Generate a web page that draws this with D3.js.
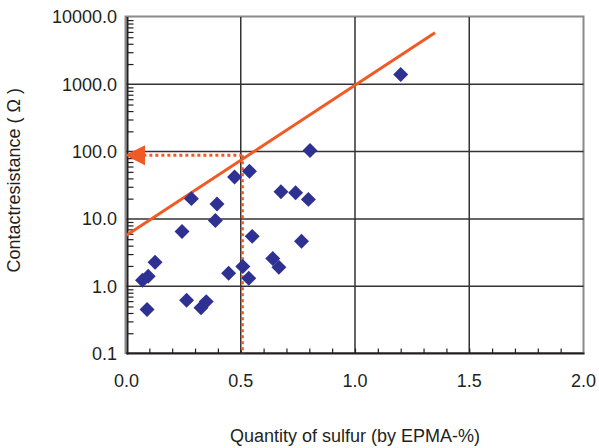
<!DOCTYPE html>
<html><head><meta charset="utf-8">
<script src="https://cdn.jsdelivr.net/npm/d3@7"></script>
<style>body{margin:0;background:#fff}svg{display:block}text{font-family:"Liberation Sans",Arial,sans-serif;fill:#231f20}</style>
</head><body><svg id="c" width="599" height="448"></svg>
<script>
const sulfur = [0.070,0.095,0.125,0.090,0.243,0.284,0.263,0.326,0.349,0.389,0.396,0.447,0.473,0.538,0.509,0.535,0.550,0.640,0.667,0.676,0.740,0.766,0.796,0.803,1.200];
const resistance = [1.23,1.41,2.27,0.45,6.5,20.0,0.62,0.48,0.59,9.5,16.6,1.56,42,51,1.96,1.31,5.5,2.58,1.91,25.3,24.5,4.67,19.5,104,1400];
const trendX = [0, 1.35];
const trendY = [5.7, 5850];
const guideX = 0.507;
const guideY = 88;
const xTicks = [0, 0.5, 1.0, 1.5, 2.0];
const yTicks = [0.1, 1, 10, 100, 1000, 10000];

const svg = d3.select("#c");
const L = 126.5, R = 583.5, T = 17, B = 353.5;
const x = d3.scaleLinear().domain([0, 2]).range([L, R]);
const y = d3.scaleLog().domain([0.1, 10000]).range([B, T]);
const orange = "#f15a24", blue = "#2e3192", dark = "#231f20";

// frame
svg.append("rect").attr("x", L - 1).attr("y", T - 0.5).attr("width", R - L + 1).attr("height", B - T)
  .attr("fill", "none").attr("stroke", "#8a8a8a").attr("stroke-width", 2);

// grid
svg.append("g").selectAll("line").data(xTicks.filter(d => d > 0 && d < 2)).join("line")
  .attr("x1", d => x(d)).attr("x2", d => x(d)).attr("y1", T).attr("y2", B)
  .attr("stroke", "#333").attr("stroke-width", 1.5);
svg.append("g").selectAll("line").data(yTicks.filter(d => d > 0.1 && d < 10000)).join("line")
  .attr("x1", L).attr("x2", R).attr("y1", d => y(d)).attr("y2", d => y(d))
  .attr("stroke", "#333").attr("stroke-width", 1.5);

// y axis (minor log ticks inside)
const yMinor = [];
yTicks.slice(0, -1).forEach(d => { for (let k = 2; k <= 9; k++) yMinor.push(d * k); });
const yAxis = d3.axisRight(y).tickValues(yMinor).tickSize(6).tickFormat("");
const ya = svg.append("g").attr("transform", `translate(${L + 1},0)`).call(yAxis);
ya.select(".domain").remove();
ya.selectAll("line").attr("stroke", dark).attr("stroke-width", 1.2);
svg.append("line").attr("x1", L + 1).attr("x2", L + 1).attr("y1", T).attr("y2", B + 1)
  .attr("stroke", dark).attr("stroke-width", 2);
svg.append("g").selectAll("text").data(yTicks).join("text")
  .attr("x", 117).attr("y", d => y(d)).attr("dy", "0.35em").attr("text-anchor", "end")
  .attr("font-size", 18).text(d => d.toFixed(1));

// x axis (minor ticks every 0.1 upward)
const xMinor = d3.range(1, 20).map(i => i / 10);
const xAxis = d3.axisTop(x).tickValues(xMinor).tickSize(5).tickFormat("");
const xa = svg.append("g").attr("transform", `translate(0,${B})`).call(xAxis);
xa.select(".domain").remove();
xa.selectAll("line").attr("stroke", dark).attr("stroke-width", 1.2);
svg.append("line").attr("x1", L).attr("x2", R + 1).attr("y1", B).attr("y2", B)
  .attr("stroke", dark).attr("stroke-width", 2);
svg.append("g").selectAll("text").data(xTicks).join("text")
  .attr("x", d => x(d)).attr("y", 387).attr("text-anchor", "middle")
  .attr("font-size", 18).text(d => d.toFixed(1));

// titles
svg.append("text").attr("x", (L + R) / 2).attr("y", 442).attr("text-anchor", "middle")
  .attr("font-size", 18).text("Quantity of sulfur (by EPMA-%)");
svg.append("text").attr("transform", `translate(20,${(T + B) / 2 - 5}) rotate(-90)`)
  .attr("text-anchor", "middle").attr("font-size", 18).text("Contactresistance ( Ω )");

// guide dotted lines
svg.append("line").attr("x1", x(guideX)).attr("x2", x(guideX)).attr("y1", y(guideY)).attr("y2", B)
  .attr("stroke", orange).attr("stroke-width", 3).attr("stroke-dasharray", "3,3");
svg.append("line").attr("x1", x(guideX)).attr("x2", 143).attr("y1", y(guideY)).attr("y2", y(guideY))
  .attr("stroke", orange).attr("stroke-width", 3).attr("stroke-dasharray", "3,3");
const gy = y(guideY);
svg.append("path").attr("d", `M125,${gy} L145,${gy - 10} L145,${gy + 10} Z`).attr("fill", orange);

// trend line
const line = d3.line().x(d => x(d[0])).y(d => y(d[1]));
svg.append("path").datum(d3.zip(trendX, trendY)).attr("d", line)
  .attr("fill", "none").attr("stroke", orange).attr("stroke-width", 3);

// points
const sym = d3.symbol().type(d3.symbolSquare).size(112);
svg.append("g").selectAll("path").data(d3.zip(sulfur, resistance)).join("path")
  .attr("d", sym).attr("transform", d => `translate(${x(d[0])},${y(d[1])}) rotate(45)`)
  .attr("fill", blue);
</script></body></html>
